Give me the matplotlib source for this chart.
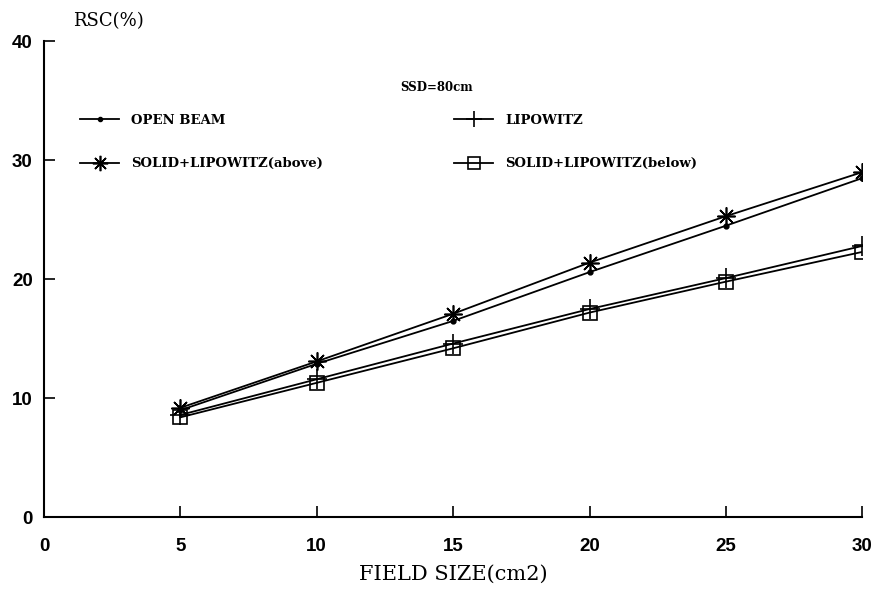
import matplotlib
matplotlib.use("Agg")
import matplotlib.pyplot as plt

field_size = [5, 10, 15, 20, 25, 30]
open_beam = [9.0, 12.9, 16.5, 20.6, 24.5, 28.5]
lipowitz = [8.6, 11.6, 14.6, 17.5, 20.1, 22.8]
solid_above = [9.2, 13.1, 17.1, 21.4, 25.3, 29.0]
solid_below = [8.4, 11.3, 14.2, 17.2, 19.8, 22.3]
x_ticks = [0, 5, 10, 15, 20, 25, 30]
y_ticks = [0, 10, 20, 30, 40]

fig = plt.figure(figsize=(8.79, 5.89), dpi=100)
ax = fig.add_axes([0.050, 0.1217, 0.931, 0.8083])

lw = 1.3
l1, = ax.plot(field_size, open_beam, color='black', lw=lw, marker='o', ms=3.5, label='OPEN BEAM')
l2, = ax.plot(field_size, lipowitz, color='black', lw=lw, marker='+', ms=14, mew=1.2, label='LIPOWITZ')
l3, = ax.plot(field_size, solid_above, color='black', lw=lw, marker=(8, 2, 0), ms=13, mew=1.2, label='SOLID+LIPOWITZ(above)')
l4, = ax.plot(field_size, solid_below, color='black', lw=lw, marker='s', ms=10, mfc='none', mew=1.2, label='SOLID+LIPOWITZ(below)')

ax.set_xlim(0, 30)
ax.set_ylim(0, 40)
ax.set_xticks(x_ticks)
ax.set_yticks(y_ticks)
ax.tick_params(direction='in', length=8, width=1.2, labelsize=13.5)
for lab in ax.get_xticklabels() + ax.get_yticklabels():
    lab.set_family('Liberation Sans')
    lab.set_fontweight('bold')
ax.tick_params(axis='x', pad=15)
ax.tick_params(axis='y', pad=8)
for s in ['top', 'right']:
    ax.spines[s].set_visible(False)
for s in ['left', 'bottom']:
    ax.spines[s].set_linewidth(1.5)

ax.set_xlabel('FIELD SIZE(cm2)', family='DejaVu Serif', fontsize=15, labelpad=7)
fig.text(0.083, 0.965, 'RSC(%)', family='DejaVu Serif', fontsize=13, ha='left', va='center')

fig.text(0.455, 0.852, 'SSD=80cm', family='DejaVu Serif',
         fontweight='bold', fontsize=8.5, ha='left', va='center')

leg = ax.legend(handles=[l1, l3, l2, l4], ncol=2, frameon=False,
                loc='upper left', bbox_to_anchor=(0.0294, 0.8725),
                prop={'family': 'DejaVu Serif', 'weight': 'bold', 'size': 9.5},
                handlelength=3.0, handletextpad=0.9, columnspacing=9.9,
                labelspacing=2.3, markerscale=0.85)

fig.savefig('out.png', dpi=100, facecolor='white')
